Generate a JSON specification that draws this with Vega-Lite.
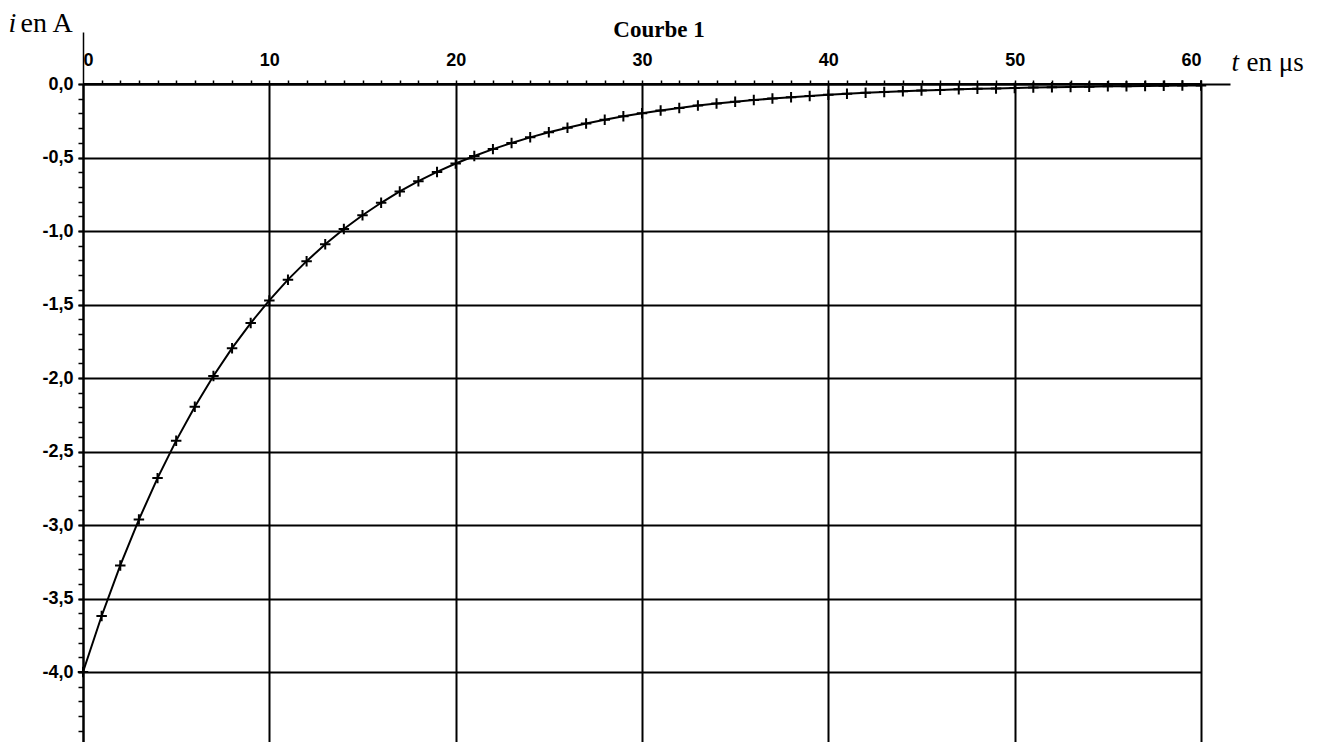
{
  "$schema": "https://vega.github.io/schema/vega-lite/v6.json",
  "autosize": {"type": "none"},
  "width": 1118,
  "height": 658,
  "padding": {"left": 83, "top": 84, "right": 122, "bottom": 0},
  "background": "white",
  "title": {"text": "Courbe 1", "font": "Liberation Serif", "fontSize": 23, "fontWeight": "bold", "color": "black", "anchor": "middle", "frame": "group", "dx": 17, "offset": -33},
  "data": {"values": [
    {"t": 0, "i": -4.000}, {"t": 1, "i": -3.619}, {"t": 2, "i": -3.275}, {"t": 3, "i": -2.963},
    {"t": 4, "i": -2.681}, {"t": 5, "i": -2.426}, {"t": 6, "i": -2.195}, {"t": 7, "i": -1.986},
    {"t": 8, "i": -1.797}, {"t": 9, "i": -1.626}, {"t": 10, "i": -1.472}, {"t": 11, "i": -1.331},
    {"t": 12, "i": -1.205}, {"t": 13, "i": -1.090}, {"t": 14, "i": -0.986}, {"t": 15, "i": -0.893},
    {"t": 16, "i": -0.808}, {"t": 17, "i": -0.731}, {"t": 18, "i": -0.661}, {"t": 19, "i": -0.598},
    {"t": 20, "i": -0.541}, {"t": 21, "i": -0.490}, {"t": 22, "i": -0.443}, {"t": 23, "i": -0.401},
    {"t": 24, "i": -0.363}, {"t": 25, "i": -0.328}, {"t": 26, "i": -0.297}, {"t": 27, "i": -0.269},
    {"t": 28, "i": -0.243}, {"t": 29, "i": -0.220}, {"t": 30, "i": -0.199}, {"t": 31, "i": -0.180},
    {"t": 32, "i": -0.163}, {"t": 33, "i": -0.147}, {"t": 34, "i": -0.133}, {"t": 35, "i": -0.121},
    {"t": 36, "i": -0.109}, {"t": 37, "i": -0.099}, {"t": 38, "i": -0.090}, {"t": 39, "i": -0.081},
    {"t": 40, "i": -0.073}, {"t": 41, "i": -0.066}, {"t": 42, "i": -0.060}, {"t": 43, "i": -0.054},
    {"t": 44, "i": -0.049}, {"t": 45, "i": -0.044}, {"t": 46, "i": -0.040}, {"t": 47, "i": -0.036},
    {"t": 48, "i": -0.033}, {"t": 49, "i": -0.030}, {"t": 50, "i": -0.027}, {"t": 51, "i": -0.024},
    {"t": 52, "i": -0.022}, {"t": 53, "i": -0.020}, {"t": 54, "i": -0.018}, {"t": 55, "i": -0.016},
    {"t": 56, "i": -0.015}, {"t": 57, "i": -0.013}, {"t": 58, "i": -0.012}, {"t": 59, "i": -0.011},
    {"t": 60, "i": -0.010}
  ]},
  "layer": [
    {
      "mark": {"type": "line", "color": "black", "strokeWidth": 2},
      "encoding": {
        "x": {"field": "t", "type": "quantitative", "scale": {"domain": [0, 60], "nice": false, "zero": false},
          "axis": {"orient": "top", "values": [0, 10, 20, 30, 40, 50, 60], "format": "d", "ticks": false, "labelPadding": 15,
            "grid": true, "gridColor": "black", "gridWidth": 2, "gridOpacity": 1,
            "domain": true, "domainColor": "black", "domainWidth": 2,
            "labelFont": "Liberation Sans", "labelFontSize": 18, "labelFontWeight": "bold", "labelColor": "black",
            "title": "en μs", "titleAngle": 0, "titleAlign": "left", "titleBaseline": "alphabetic", "titleX": 1163, "titleY": -14,
            "titleFont": "Liberation Serif", "titleFontSize": 27, "titleFontWeight": "normal", "titleColor": "black"}},
        "y": {"field": "i", "type": "quantitative", "scale": {"domain": [-4.476, 0], "nice": false, "zero": false},
          "axis": {"orient": "left", "values": [0, -0.5, -1, -1.5, -2, -2.5, -3, -3.5, -4],
            "labelExpr": "replace(replace(format(datum.value, '.1f'), '.', ','), '\u2212', '-')",
            "ticks": true, "tickSize": 5, "tickWidth": 2, "tickColor": "black", "labelPadding": 5,
            "grid": true, "gridColor": "black", "gridWidth": 2, "gridOpacity": 1,
            "domain": true, "domainColor": "black", "domainWidth": 2,
            "labelFont": "Liberation Sans", "labelFontSize": 18, "labelFontWeight": "bold", "labelColor": "black",
            "title": "en A", "titleAngle": 0, "titleAlign": "left", "titleBaseline": "alphabetic", "titleX": -63, "titleY": -53,
            "titleFont": "Liberation Serif", "titleFontSize": 28, "titleFontWeight": "normal", "titleColor": "black"}}
      }
    },
    {
      "mark": {"type": "point", "shape": "M-1,0L1,0M0,-1L0,1", "size": 110, "filled": false, "color": "black", "strokeWidth": 2, "opacity": 1},
      "encoding": {
        "x": {"field": "t", "type": "quantitative",
          "axis": {"orient": "top", "values": [0,1,2,3,4,5,6,7,8,9,10,11,12,13,14,15,16,17,18,19,20,21,22,23,24,25,26,27,28,29,30,31,32,33,34,35,36,37,38,39,40,41,42,43,44,45,46,47,48,49,50,51,52,53,54,55,56,57,58,59,60],
            "labels": false, "grid": false, "domain": false,
            "ticks": true, "tickColor": "black", "tickWidth": 1.5,
            "tickSize": {"condition": {"test": "datum.value === 0", "value": 52}, "value": 4},
            "title": "t", "titleAngle": 0, "titleAlign": "left", "titleBaseline": "alphabetic", "titleX": 1148, "titleY": -14,
            "titleFont": "Liberation Serif", "titleFontSize": 27, "titleFontWeight": "normal", "titleFontStyle": "italic", "titleColor": "black"}},
        "y": {"field": "i", "type": "quantitative",
          "axis": {"orient": "left", "values": [0,-0.1,-0.2,-0.3,-0.4,-0.5,-0.6,-0.7,-0.8,-0.9,-1,-1.1,-1.2,-1.3,-1.4,-1.5,-1.6,-1.7,-1.8,-1.9,-2,-2.1,-2.2,-2.3,-2.4,-2.5,-2.6,-2.7,-2.8,-2.9,-3,-3.1,-3.2,-3.3,-3.4,-3.5,-3.6,-3.7,-3.8,-3.9,-4,-4.1,-4.2,-4.3,-4.4],
            "labels": false, "grid": false, "domain": false,
            "ticks": true, "tickColor": "black", "tickWidth": 1.5, "tickSize": 5,
            "title": "i", "titleAngle": 0, "titleAlign": "left", "titleBaseline": "alphabetic", "titleX": -75, "titleY": -53,
            "titleFont": "Liberation Serif", "titleFontSize": 28, "titleFontWeight": "normal", "titleFontStyle": "italic", "titleColor": "black"}}
      }
    },
    {
      "mark": {"type": "rule", "color": "black", "strokeWidth": 2},
      "encoding": {
        "y": {"datum": 0, "type": "quantitative",
          "axis": {"orient": "right", "values": [0], "labels": false, "grid": false, "domain": false,
            "ticks": true, "tickColor": "black", "tickWidth": 2, "tickSize": 29, "title": null}}
      }
    }
  ],
  "resolve": {"axis": {"x": "independent", "y": "independent"}},
  "config": {"view": {"stroke": null}}
}
